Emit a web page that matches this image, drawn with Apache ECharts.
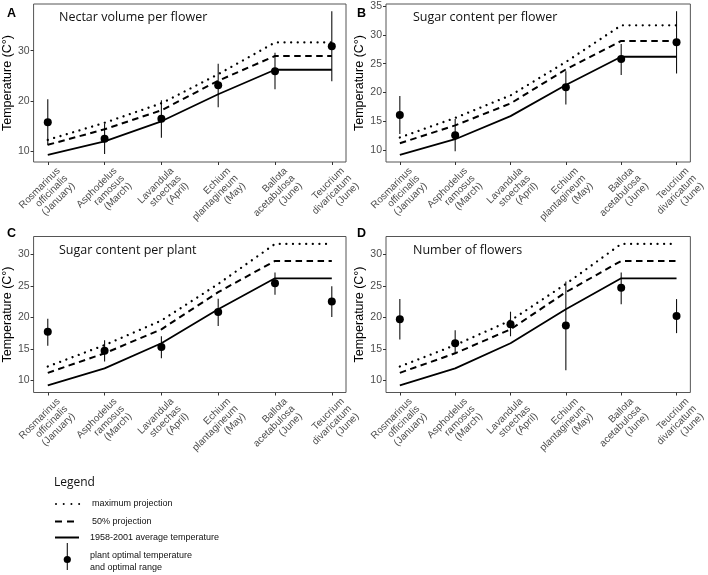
<!DOCTYPE html>
<html>
<head>
<meta charset="utf-8">
<script src="https://cdn.jsdelivr.net/npm/echarts@6/dist/echarts.min.js"></script>
<style>html,body{margin:0;padding:0;background:#fff;}#chart{width:708px;height:575px;}</style>
</head>
<body>
<div id="chart"></div>
<script>
// ---- data ----
var categories = ['Rosmarinus\nofficinalis\n(January)', 'Asphodelus\nramosus\n(March)', 'Lavandula\nstoechas\n(April)', 'Echium\nplantagineum\n(May)', 'Ballota\nacetabulosa\n(June)', 'Teucrium\ndivaricatum\n(June)'];
var avgTemp = [9.2, 11.9, 15.9, 21.3, 26.2, 26.2];
var proj50 = [11.2, 14.3, 18.1, 24.0, 28.95, 28.95];
var projMax = [12.2, 15.6, 19.5, 25.3, 31.65, 31.65];

var panelTitles = ['Nectar volume per flower', 'Sugar content per flower', 'Sugar content per plant', 'Number of flowers'];
var panelLetters = ['A', 'B', 'C', 'D'];

var optA = [15.7, 12.4, 16.4, 23.1, 25.9, 30.9];
var lowA = [11.1, 9.35, 12.6, 18.7, 22.3, 23.9];
var highA = [20.3, 15.35, 20.1, 27.4, 29.6, 37.9];

var optB = [16.1, 12.6, null, 20.9, 25.8, 28.7];
var lowB = [12.8, 9.8, null, 17.9, 23.05, 23.3];
var highB = [19.4, 15.4, null, 23.7, 28.4, 34.1];

var optC = [17.7, 14.7, 15.3, 20.85, 25.4, 22.5];
var lowC = [15.5, 13.0, 13.5, 18.65, 23.6, 20.05];
var highC = [19.8, 16.35, 17.0, 22.95, 27.1, 24.95];

var optD = [19.7, 15.9, 18.9, 18.7, 24.7, 20.2];
var lowD = [16.5, 14.2, 17.0, 11.6, 22.1, 17.5];
var highD = [22.9, 17.95, 20.9, 25.7, 27.1, 22.9];

var yTicksA = [10, 20, 30];
var yTicksB = [10, 15, 20, 25, 30, 35];
var yTicksC = [10, 15, 20, 25, 30];
var yTicksD = [10, 15, 20, 25, 30];
var xTicks = [1, 2, 3, 4, 5, 6];

var legendTitle = 'Legend';
var legendLabels = ['maximum projection', '50% projection', '1958-2001 average temperature', 'plant optimal temperature\nand optimal range'];
var yTitle = 'Temperature (C°)';

// ---- layout ----
var panels = [
  {left: 32, top: 4, height: 158, ymin: 7.77, ymax: 39.33, ticks: yTicksA, opt: optA, low: lowA, high: highA},
  {left: 386, top: 4, height: 158, ymin: 7.95, ymax: 35.35, ticks: yTicksB, opt: optB, low: lowB, high: highB},
  {left: 32, top: 236.5, height: 156, ymin: 8.08, ymax: 32.83, ticks: yTicksC, opt: optC, low: lowC, high: highC},
  {left: 386, top: 236.5, height: 156, ymin: 8.08, ymax: 32.83, ticks: yTicksD, opt: optD, low: lowD, high: highD}
];
var plotW = 314;
var axisGray = '#4d4d4d';
var labelFont = 'Liberation Sans, Arial, sans-serif';

var grids = [], xAxes = [], yAxes = [], series = [], graphics = [];

function pairs(arr) {
  return arr.map(function (v, i) { return [i + 1, v]; });
}

panels.forEach(function (p, k) {
  grids.push({left: p.left, top: p.top, width: plotW, height: p.height, show: true, borderColor: '#555', borderWidth: 1, backgroundColor: 'transparent'});
  xAxes.push({
    type: 'value', gridIndex: k, min: 0.75, max: 6.25,
    splitLine: {show: false}, axisLine: {show: false},
    axisTick: {show: true, customValues: xTicks, length: 3, lineStyle: {color: '#333'}},
    axisLabel: {
      customValues: xTicks, rotate: 45, align: 'right', verticalAlign: 'top', margin: 5,
      padding: [4, -6, 0, 0],
      color: axisGray, fontFamily: labelFont, fontSize: 10, lineHeight: 10.5,
      formatter: function (v) { return categories[Math.round(v) - 1]; }
    }
  });
  yAxes.push({
    type: 'value', gridIndex: k, min: p.ymin, max: p.ymax,
    splitLine: {show: false}, axisLine: {show: false},
    axisTick: {show: true, customValues: p.ticks, length: 3, lineStyle: {color: '#333'}},
    axisLabel: {customValues: p.ticks, color: axisGray, fontFamily: labelFont, fontSize: 10.5, margin: 4},
    name: yTitle, nameLocation: 'middle', nameGap: 19, nameRotate: 90,
    nameTextStyle: {color: '#000', fontFamily: labelFont, fontSize: 12.5}
  });
  series.push({
    type: 'line', xAxisIndex: k, yAxisIndex: k, data: pairs(projMax), symbol: 'none', silent: true,
    lineStyle: {color: '#000', width: 2.3, type: [0.01, 6.6], cap: 'round'}
  });
  series.push({
    type: 'line', xAxisIndex: k, yAxisIndex: k, data: pairs(proj50), symbol: 'none', silent: true,
    lineStyle: {color: '#000', width: 2, type: [6.5, 4.5]}
  });
  series.push({
    type: 'line', xAxisIndex: k, yAxisIndex: k, data: pairs(avgTemp), symbol: 'none', silent: true,
    lineStyle: {color: '#000', width: 1.8}
  });
  var ebData = [];
  p.opt.forEach(function (v, i) { if (v !== null) ebData.push([i + 1, p.low[i], p.high[i]]); });
  series.push({
    type: 'custom', xAxisIndex: k, yAxisIndex: k, data: ebData, silent: true,
    encode: {x: 0, y: [1, 2]},
    renderItem: function (params, api) {
      var x = api.value(0);
      var a = api.coord([x, api.value(1)]);
      var b = api.coord([x, api.value(2)]);
      return {type: 'line', shape: {x1: a[0], y1: a[1], x2: b[0], y2: b[1]}, style: {stroke: '#111', lineWidth: 1.1}};
    }
  });
  series.push({
    type: 'scatter', xAxisIndex: k, yAxisIndex: k, silent: true,
    data: p.opt.map(function (v, i) { return v === null ? [i + 1, '-'] : [i + 1, v]; }),
    symbol: 'circle', symbolSize: 8, itemStyle: {color: '#000', opacity: 1}
  });
  graphics.push({
    type: 'text', left: p.left + 27, top: p.top + 7,
    style: {text: panelTitles[k], fontFamily: 'Open Sans, DejaVu Sans, sans-serif', fontSize: 12.5, fill: '#111'}
  });
  graphics.push({
    type: 'text', left: (k % 2 === 0 ? 7 : 357), top: (k < 2 ? 7 : 227),
    style: {text: panelLetters[k], fontFamily: labelFont, fontWeight: 'bold', fontSize: 12.5, fill: '#000'}
  });
});

// ---- legend (drawn as graphic) ----
graphics.push({type: 'text', left: 54, top: 477, style: {text: legendTitle, fontFamily: 'Open Sans, DejaVu Sans, sans-serif', fontSize: 12, fill: '#111'}});
graphics.push({type: 'line', shape: {x1: 56, y1: 504, x2: 80, y2: 504}, style: {stroke: '#000', lineWidth: 2, lineDash: [0.01, 7.7], lineCap: 'round'}});
graphics.push({type: 'line', shape: {x1: 55, y1: 521.5, x2: 78, y2: 521.5}, style: {stroke: '#000', lineWidth: 2, lineDash: [7, 5]}});
graphics.push({type: 'line', shape: {x1: 55, y1: 537.5, x2: 79, y2: 537.5}, style: {stroke: '#000', lineWidth: 2}});
graphics.push({type: 'line', shape: {x1: 67.3, y1: 543, x2: 67.3, y2: 570}, style: {stroke: '#111', lineWidth: 1.1}});
graphics.push({type: 'circle', shape: {cx: 67.3, cy: 559.5, r: 3.6}, style: {fill: '#000'}});
var legTextY = [504, 521.5, 537.5];
var legTextX = [92, 92, 90];
for (var i = 0; i < 3; i++) {
  graphics.push({type: 'text', x: legTextX[i], y: legTextY[i], style: {text: legendLabels[i], fontFamily: labelFont, fontSize: 9, fill: '#111', textVerticalAlign: 'middle'}});
}
graphics.push({type: 'text', x: 90, y: 561.5, style: {text: legendLabels[3], fontFamily: labelFont, fontSize: 9, lineHeight: 12, fill: '#111', textVerticalAlign: 'middle'}});

var chart = echarts.init(document.getElementById('chart'), null, {renderer: 'canvas'});
chart.setOption({
  animation: false,
  backgroundColor: '#fff',
  grid: grids,
  xAxis: xAxes,
  yAxis: yAxes,
  series: series,
  graphic: graphics
});
</script>
</body>
</html>
